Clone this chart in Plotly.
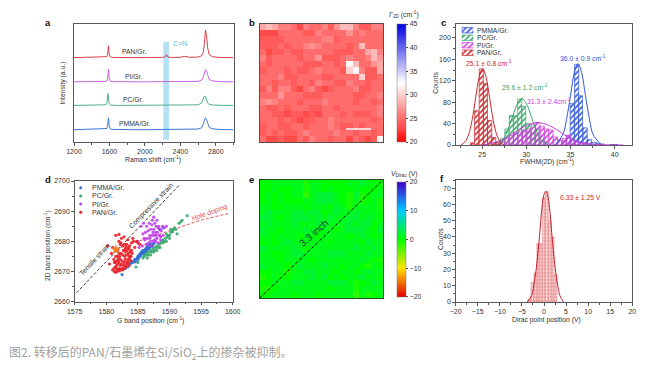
import plotly.graph_objects as go

W, H = 646, 368
FONT = "Liberation Sans"
TXT = "#333333"

# ---------- panel a ----------
raman_x = [1200,1300,1400,1450,1500,1550,1570,1578,1584,1588,1592,1596,1602,1610,1630,1700,1800,1900,2000,2100,2200,2230,2245,2260,2300,2400,2450,2500,2600,2640,2660,2672,2684,2696,2708,2725,2760,2850,3000]
raman_pan = [71.5,71.6,71.5,71.6,71.6,71.8,72.3,73.5,78,81.5,80,75,72.8,72.1,71.7,71.5,71.6,71.5,71.6,71.5,71.7,72.3,74,72,71.6,71.8,72.6,71.8,72,73,76,84,95,90,80,74,72.3,71.6,71.5]
raman_pi = [51,51.1,51,51.2,51,51.3,51.8,53,58,61.5,60,55,52.5,51.6,51.2,51,51.1,51,51,51.1,51,51.1,51,51.1,51,51.1,51.3,51.1,51.4,52.5,55,58.5,61.5,60,56,53,51.8,51.1,51]
raman_pc = [31,31.1,31,31.1,31.2,31.5,32.2,36,41,39,35,33,32,31.5,31.2,31,31.1,31,31,31.1,31,31,31.1,31,31,31.1,31.6,31.3,31.5,33,36,39,38.5,35,33,32,31.4,31.1,31]
raman_pmma = [10.4,10.6,10.9,11.1,10.7,10.9,11.4,13,18,20.5,19,14.5,12,11.1,10.7,10.5,10.6,10.4,10.4,10.5,10.4,10.5,10.4,10.5,10.5,10.6,11,10.7,11,12,15,18.5,20.5,19,15.5,12.5,11.2,10.6,10.4]

# ---------- panel b ----------
gamma_map = [
 [28,29,28,26,26,25,23,26,25,25,26,24,27,29,29,26,24,24,26,26],
 [23,23,23,25,25,25,25,24,24,26,25,25,25,25,27,25,26,25,25,25],
 [24,24,24,24,25,25,25,25,25,25,26,26,24,25,25,25,25,25,25,25],
 [24,24,24,25,24,25,25,26,27,26,25,25,25,25,24,25,29,25,25,25],
 [25,23,24,24,25,24,24,25,25,25,25,25,24,24,24,25,25,28,29,26],
 [26,24,25,25,25,25,24,25,25,27,24,24,24,25,26,25,25,26,29,27],
 [25,24,25,25,25,25,25,24,24,24,25,25,24,25,32,29,25,25,27,28],
 [24,25,25,25,24,25,24,24,25,26,25,25,25,24,30,33,26,24,24,28],
 [25,25,25,26,24,24,25,25,25,25,24,24,25,25,25,25,30,24,24,25],
 [25,25,24,25,25,24,25,25,24,26,25,25,24,24,26,25,25,24,25,25],
 [24,26,24,26,26,24,23,25,26,24,23,24,25,25,25,26,24,24,25,25],
 [25,25,25,27,25,25,25,24,24,24,25,25,25,25,25,24,24,25,25,26],
 [26,27,26,25,25,25,24,25,25,25,26,25,25,25,25,24,25,25,24,25],
 [25,24,24,25,24,25,25,25,24,24,25,25,24,25,25,25,25,25,25,26],
 [25,25,24,24,23,24,24,23,24,23,25,25,25,24,25,24,24,24,25,26],
 [25,25,25,24,25,24,23,24,24,25,25,26,25,25,25,25,25,25,24,25],
 [24,25,25,24,24,25,25,24,25,25,25,26,25,24,24,25,24,25,25,25],
 [24,25,24,25,24,24,25,26,25,25,25,25,26,25,25,24,25,25,24,25],
 [25,23,23,24,23,23,25,24,26,25,25,24,25,25,23,25,24,23,24,32],
]

# ---------- panel c ----------
pan_bin = [23.9,24.37,24.9,25.37,25.85,26.3,26.8]
pan_cnt = [4,64,142,115,46,14,5]
pc_bin = [26.8,27.3,27.8,28.3,28.8,29.25,29.7,30.2,30.7,31.2,31.7,32.2]
pc_cnt = [4,12,30,55,55,86,72,40,22,30,15,5]
pi_bin = [26.8,27.3,27.8,28.3,28.8,29.3,29.8,30.3,30.8,31.3,31.8,32.3,32.8,33.3,33.8,34.3,34.8,35.3,35.8,36.3,36.8]
pi_cnt = [2,5,12,18,22,24,28,30,38,42,35,30,28,15,10,12,18,8,5,3,2]
pmma_bin = [34.25,34.75,35.2,35.7,36.13,36.66,37.15,37.7,38.15,38.6,39.7,40.1]
pmma_cnt = [8,18,78,150,92,32,10,5,3,2,1,1]

pan_fit_x = [22.6,23.05,23.45,23.85,24.25,24.65,25.05,25.45,25.85,26.25,26.65,27.05,27.45]
pan_fit_y = [0,6,19,46,87,126,143,126,87,46,19,6,0]
pc_fit_x = [26.7,27.4,27.9,28.45,29.0,29.5,30.0,30.55,31.1,31.6,32.5]
pc_fit_y = [0,11,28,54,77,87,77,54,28,11,0]
pi_fit_x = [24.9,26.5,27.7,28.9,30.1,31.3,32.5,33.7,34.9,36.1,37.3,39,41]
pi_fit_y = [0,5,13,26,37,42,37,26,13,5,2,0.4,0]
pmma_fit_x = [33.3,34.15,34.55,35.0,35.45,35.85,36.25,36.7,37.15,37.55,38.5]
pmma_fit_y = [0,20,48,92,136,152,136,92,48,20,0]

# ---------- panel d ----------
pmma_g = [1582.5,1583,1583.4,1583.8,1584,1584.2,1584.4,1584.5,1584.7,1584.9,1585,1585.1,1585.2,1585.3,1585.4,1585.5,1585.6,1585.7,1585.8,1585.9,1586,1586.1,1586.2,1586.3,1586.4,1586.5,1586.6,1586.7,1586.8,1586.9,1587,1587.2,1587.4,1587.6,1584.6,1585,1585.5,1586,1586.4,1586.8,1587.3,1588.5,1589]
pmma_2d = [2669,2671,2671.5,2672.5,2673,2673,2673.5,2674,2674,2674.5,2675,2674.5,2675.5,2675,2676,2675.5,2676.5,2676,2677,2676.5,2677,2676.5,2677.5,2677,2678,2677.5,2678,2678.5,2678,2679,2678.5,2679,2679,2679.5,2673.2,2674,2676,2676,2676.8,2677.5,2678.2,2684,2684.5]
pc_g = [1584.7,1585,1585.8,1586,1586.2,1586.4,1586.6,1586.8,1587,1587.2,1587.4,1587.6,1587.8,1588,1588.2,1588.4,1588.6,1588.8,1589,1589.2,1589.4,1589.6,1589.8,1590,1590.2,1590.4,1590.6,1590.8,1591,1591.2,1591.5,1591.8,1592,1592.8,1586.5,1587,1587.5,1588,1588.5,1589,1589.5,1590,1590.5,1590.2,1589.5]
pc_2d = [2671.5,2673,2674.5,2675,2675.5,2676,2675.5,2676.5,2677,2676.5,2677.5,2677,2678,2678.5,2678,2679,2679.5,2680,2680.5,2680,2681,2681.5,2682,2682,2683,2683.5,2684,2684.5,2684,2682.5,2686,2686.5,2687,2688.5,2674.5,2675.5,2676.5,2677,2678,2679.5,2680,2681,2683.2,2684,2682.5]
pi_g = [1585.5,1585.8,1585.9,1586.1,1586.2,1586.3,1586.4,1586.5,1586.6,1586.7,1586.8,1586.9,1587,1587,1587.1,1587.2,1587.3,1587.3,1587.4,1587.5,1587.5,1587.6,1587.7,1587.8,1587.8,1587.9,1588,1588,1588.1,1588.2,1588.3,1588.4,1588.5,1588.6,1588.7,1588.9,1589,1589.2,1589.5,1585,1585.2,1585.7,1586,1586.4,1586.9,1587.4,1587.6,1587.9,1588.2,1588.6]
pi_2d = [2685,2682.5,2686,2680.5,2683,2679,2685,2681,2683.5,2679.5,2686,2682,2684,2680,2678.5,2685.5,2682,2687,2680,2688,2684,2682,2686,2680,2683,2685,2681,2687,2683,2679.5,2685,2682,2684,2680.5,2683.5,2685,2682,2684.5,2685,2680,2678,2678.5,2681,2679,2681,2683,2680.5,2682,2684.5,2681.5]
pan_g = [1580.2,1580.5,1580.8,1581,1581,1581.2,1581.2,1581.3,1581.4,1581.4,1581.5,1581.5,1581.6,1581.6,1581.7,1581.7,1581.8,1581.8,1581.9,1581.9,1582,1582,1582,1582.1,1582.1,1582.2,1582.2,1582.3,1582.3,1582.4,1582.4,1582.5,1582.5,1582.6,1582.6,1582.7,1582.7,1582.8,1582.8,1582.9,1582.9,1583,1583,1583,1583.1,1583.1,1583.2,1583.2,1583.3,1583.3,1583.4,1583.4,1583.5,1583.5,1583.6,1583.6,1583.7,1583.7,1583.8,1583.8,1583.9,1584,1584,1584.1,1584.3,1584.5,1584.8,1585,1585.3,1581.5,1582,1582.3,1582.8,1583.2,1583.5,1582.6,1583,1582,1581.8,1581.3,1582.2,1583.6,1583.9,1584.2]
pan_2d = [2678.5,2672.5,2676,2670.5,2678,2671,2674,2670,2673,2671.5,2669.8,2675,2671,2672,2673.5,2670,2672.5,2677,2670.5,2674,2671,2673,2680,2670.2,2675,2672,2674,2670.8,2676,2672.5,2681,2671,2673.5,2670.5,2675.5,2672,2677,2673,2671,2675,2679,2672,2674,2676.5,2671.5,2678,2673,2675.5,2672.5,2677,2674,2680.5,2673,2676,2675,2677.5,2674,2678.5,2675,2676.5,2673.5,2677,2679.5,2676,2680,2678,2680,2679.5,2679,2682,2682.3,2679.5,2681.5,2679,2678,2678.5,2677.5,2676,2675,2673,2679,2672,2675,2681]
star_g = [1581.5]
star_2d = [2677.3]
tensile_g = [1575.3, 1591.7]
tensile_2d = [2663, 2699]
doping_g = [1581.5, 1590, 1595, 1599.5]
doping_2d = [2677.5, 2683.5, 2687, 2689.3]

# ---------- panel e ----------
dirac_map = [
 [0,0,1,1,1,1,1,-1,1,1,0,0,0,0,1,1,2,1,0,0],
 [0,0,1,0,0,1,1,-1,1,1,0,1,0,0,0,1,0,0,0,1],
 [0,1,0,1,0,1,1,-2,1,2,2,2,1,0,-1,2,-1,0,1,1],
 [0,1,0,1,0,0,0,1,1,2,2,2,1,0,-1,1,-1,0,1,-1],
 [1,1,0,0,1,1,1,0,1,1,1,0,2,1,-1,1,1,1,1,-1],
 [1,2,1,1,1,2,2,1,2,2,0,1,2,1,1,2,1,1,1,0],
 [2,2,1,0,1,2,2,2,1,2,1,2,1,1,2,2,1,2,1,0],
 [1,2,1,1,1,2,1,1,1,2,2,1,1,1,2,1,2,2,0,1],
 [2,1,1,0,1,1,1,2,1,1,1,1,0,1,2,2,2,1,0,2],
 [1,1,0,1,1,1,0,1,1,0,1,1,1,1,0,1,2,1,0,1],
 [0,1,0,1,2,1,1,1,1,1,1,0,1,1,1,1,0,2,1,1],
 [2,1,1,1,1,2,1,0,1,1,1,1,1,1,1,2,1,1,2,1],
 [1,1,0,0,1,2,2,1,1,1,1,2,2,2,1,1,1,2,1,1],
 [1,1,1,0,1,1,1,1,0,1,1,1,1,1,1,1,2,1,0,-1],
 [2,1,1,1,0,1,2,1,1,1,2,1,1,0,1,1,0,-1,1,0],
 [0,0,1,1,-1,1,1,2,2,1,1,1,0,1,1,0,1,2,1,1],
 [-1,0,1,0,0,1,1,1,2,1,2,0,1,0,1,1,2,1,1,0],
 [0,0,1,1,1,2,2,1,1,1,1,2,2,2,1,-1,0,1,2,1],
 [-1,-1,0,1,1,1,1,1,1,1,1,0,1,1,1,-1,1,1,1,1],
 [0,0,1,1,1,0,1,1,1,0,1,1,1,1,1,-2,1,-1,0,1],
]

# ---------- panel f ----------
dirac_bin = [-3.25,-2.6,-1.95,-1.3,-0.65,0,0.65,1.3,1.95,2.6]
dirac_cnt = [2,12,18,36,36,64,68,50,40,17]
dirac_fit_x = [-3.8,-2.8,-2.2,-1.6,-1.0,-0.45,0.0,0.4,0.8,1.25,1.8,2.4,3.0,3.6,4.4]
dirac_fit_y = [0,4,12,24,41,58,66,68,66,58,41,24,12,4,0]

COL_PAN, COL_PC, COL_PI, COL_PMMA = "#c8282d", "#3aa66a", "#c840d8", "#2f55d4"
names = ["PMMA/Gr.", "PC/Gr.", "PI/Gr.", "PAN/Gr."]
cols4 = [COL_PMMA, COL_PC, COL_PI, COL_PAN]

def fx(px): return px / W
def fy(py): return 1 - py / H

annotations, shapes = [], []
def ann(text, px, py, size=6.8, color=TXT, angle=0, anchor="center", bold=False, family=FONT):
    annotations.append(dict(text=f"<b>{text}</b>" if bold else text, x=fx(px), y=fy(py), xref="paper", yref="paper",
        xanchor=anchor, yanchor="middle", showarrow=False, textangle=angle,
        font=dict(size=size, color=color, family=family)))

fig = go.Figure()
layout = {}
def axes(idx, x0, x1, y0, y1, xr, yr, xtick=None, ytick=None, xminor=None, yminor=None, linecol="#5a5a5a", show=True):
    def ax(dom, rng, dt, mn, anchor):
        d = dict(domain=dom, range=rng, anchor=anchor, automargin=False, showgrid=False, zeroline=False, showline=show,
                 mirror=show, linecolor=linecol, linewidth=1, tickfont=dict(size=7, color=TXT, family=FONT))
        if dt:
            d.update(dtick=dt, tick0=0 if dt in (5,10,40) else rng[0], ticks="outside", ticklen=2.5, tickwidth=0.7, tickcolor="#555")
            if mn:
                d["minor"] = dict(ticks="outside", ticklen=1.5, tickwidth=0.6, dtick=mn, tickcolor="#555")
        else:
            d.update(showticklabels=False, ticks="")
        return d
    sfx = "" if idx == 1 else str(idx)
    layout["xaxis" + sfx] = ax([fx(x0), fx(x1)], xr, xtick, xminor, "y" + sfx)
    layout["yaxis" + sfx] = ax([fy(y1), fy(y0)], yr, ytick, yminor, "x" + sfx)
    return dict(xaxis="x" + sfx, yaxis="y" + sfx)

# a
a = axes(1, 74, 233.5, 24, 142, [1200, 3000], [0, 100], xtick=400, xminor=200)
layout["xaxis"]["tick0"] = 1200
shapes.append(dict(type="rect", xref="x", yref="y", x0=2208, x1=2272, y0=2, y1=85, fillcolor="#b5e0f5", line_width=0, layer="below"))
for vals, col in [(raman_pan, "#d8404a"), (raman_pi, "#c860e0"), (raman_pc, "#50b088"), (raman_pmma, "#3878d8")]:
    fig.add_trace(go.Scatter(x=raman_x, y=vals, mode="lines", line=dict(color=col, width=1), showlegend=False, **a))
ann("PAN/Gr.", 134, 51.7); ann("PI/Gr.", 133.3, 76); ann("PC/Gr.", 133.7, 99.7); ann("PMMA/Gr.", 134.3, 124)
ann("C≡N", 180, 44, color="#5bbfe8", size=7)
ann("Raman shift (cm<sup>-1</sup>)", 153.3, 159)
ann("Intensity (a.u.)", 63.3, 83.3, angle=-90)

# b
b = axes(2, 259.5, 383, 24, 142, [-0.5, 19.5], [18.5, -0.5], linecol="#5a4a4a")
fig.add_trace(go.Heatmap(z=gamma_map, zmin=20, zmax=45,
    colorscale=[[0, "#ff0000"], [0.12, "#ff4a4a"], [0.2, "#ff6c6c"], [0.5, "#ffffff"], [1, "#0000e0"]], xgap=0, ygap=0,
    colorbar=dict(x=fx(397), xanchor="left", xpad=0, ypad=0, thickness=8.7, lenmode="fraction", len=118/H,
                  y=fy(83), yanchor="middle", tickvals=[20,25,30,35,40,45], ticks="outside", ticklen=2.5, tickwidth=0.7,
                  outlinewidth=0.5, outlinecolor="#777", tickfont=dict(size=7, color=TXT, family=FONT)), **b))
shapes.append(dict(type="line", xref="paper", yref="paper", x0=fx(346), x1=fx(371), y0=fy(129), y1=fy(129), line=dict(color="white", width=1.5)))
ann("<i>Γ</i><sub>2D</sub> (cm<sup>-1</sup>)", 404, 14, size=6.8)

# c
c = axes(3, 455.7, 632.3, 24, 145, [22, 42], [0, 226], xtick=5, ytick=40, xminor=2.5, yminor=20)
c_series = [(pmma_bin, pmma_cnt, COL_PMMA), (pc_bin, pc_cnt, COL_PC), (pi_bin, pi_cnt, COL_PI), (pan_bin, pan_cnt, COL_PAN)]
def hatch(col):
    return dict(color="rgba(0,0,0,0)", line=dict(color=col, width=0.7),
                pattern=dict(shape="/", fgcolor=col, bgcolor="rgba(255,255,255,0.15)", size=4, solidity=0.4))
for bx, by, col in c_series:
    fig.add_trace(go.Bar(x=bx, y=by, width=0.47, marker=hatch(col), showlegend=False, **c))
for fxs, fys, col in [(pmma_fit_x, pmma_fit_y, COL_PMMA), (pc_fit_x, pc_fit_y, COL_PC), (pi_fit_x, pi_fit_y, COL_PI), (pan_fit_x, pan_fit_y, COL_PAN)]:
    fig.add_trace(go.Scatter(x=fxs, y=fys, mode="lines", line=dict(color=col, width=1, shape="spline", smoothing=1), showlegend=False, **c))
layout["barmode"] = "overlay"
ann("25.1 ± 0.8 cm<sup>-1</sup>", 489, 63.3, color=COL_PAN)
ann("29.6 ± 1.2 cm<sup>-1</sup>", 525.3, 87.3, color=COL_PC)
ann("31.3 ± 2.4cm<sup>-1</sup>", 549, 100.7, color=COL_PI)
ann("36.0 ± 0.9 cm<sup>-1</sup>", 582.7, 58.3, color=COL_PMMA)
ann("Counts", 436, 82.7, angle=-90)
ann("FWHM(2D) (cm<sup>-1</sup>)", 546.7, 161)
# c legend keys: a tiny invisible-axis bar plot
k = axes(7, 461.7, 473.3, 26.5, 56.5, [0, 1], [3.5, -0.5], show=False)
for i, (nm, col) in enumerate(zip(names, cols4)):
    fig.add_trace(go.Bar(x=[1], y=[i], width=0.72, orientation="h", marker=hatch(col), showlegend=False, **k))
    ann(nm, 475, 30.2 + i * 7.55, anchor="left")

# d
d = axes(4, 74.7, 232.7, 181, 301.7, [1575, 1600], [2660, 2700], xtick=5, ytick=10, xminor=2.5, yminor=5)
layout["xaxis4"]["tick0"] = 1575
layout["yaxis4"]["tick0"] = 2660
fig.add_trace(go.Scatter(x=tensile_g, y=tensile_2d, mode="lines", line=dict(color="#222", width=0.9, dash="3px,2px"), showlegend=False, **d))
fig.add_trace(go.Scatter(x=doping_g, y=doping_2d, mode="lines", line=dict(color="#e85050", width=1, dash="3px,2px", shape="spline"), showlegend=False, **d))
pts = [(pmma_g, pmma_2d, "#2f6fd0"), (pc_g, pc_2d, "#3aa870"), (pi_g, pi_2d, "#c040e8"), (pan_g, pan_2d, "#e82028")]
for gx, dy, col in pts:
    fig.add_trace(go.Scatter(x=gx, y=dy, mode="markers", marker=dict(color=col, size=3.2, opacity=0.9, line_width=0), showlegend=False, **d))
fig.add_trace(go.Scatter(x=star_g, y=star_2d, mode="markers", marker=dict(color="#f08020", size=8, symbol="star", line_width=0), showlegend=False, **d))
for i, (nm, (_, _, col)) in enumerate(zip(names, pts)):
    cy = 187.7 + i * 8.2
    shapes.append(dict(type="circle", xref="paper", yref="paper", x0=fx(79.2), x1=fx(82.2), y0=fy(cy + 1.5), y1=fy(cy - 1.5), fillcolor=col, line_width=0))
    ann(nm, 90.3, cy, anchor="left", size=7)
ann("Tensile strain", 94.3, 259.3, angle=-47, size=7)
ann("Compressive strain", 151, 205.7, angle=-46, size=7)
ann("Hole doping", 209, 213.3, angle=-20, size=7, color="#e85050")
ann("G band position (cm<sup>-1</sup>)", 150.7, 320)
ann("2D band position (cm<sup>-1</sup>)", 47, 245, angle=-90)

# e
e = axes(5, 259.5, 383, 180, 298.3, [-0.5, 19.5], [19.5, -0.5], linecol="#1c4a1c")
jet = [[0, "#e00000"], [0.25, "#ffe000"], [0.5, "#00ff00"], [0.75, "#00c8ff"], [1, "#4400c8"]]
fig.add_trace(go.Heatmap(z=dirac_map, zmin=-20, zmax=20, colorscale=jet,
    colorbar=dict(x=fx(397), xanchor="left", xpad=0, ypad=0, thickness=8.7, lenmode="fraction", len=115.3/H,
                  y=fy(239.3), yanchor="middle", tickvals=[-20,-10,0,10,20], ticks="outside", ticklen=2.5, tickwidth=0.7,
                  outlinewidth=0.5, outlinecolor="#777", tickfont=dict(size=7, color=TXT, family=FONT)), **e))
shapes.append(dict(type="line", xref="x5", yref="y5", x0=-0.5, x1=19.5, y0=19.5, y1=-0.5, line=dict(color="#111", width=1, dash="4px,1.5px")))
ann("3.3 inch", 313, 233, size=10, angle=-42, color="#1c3c2c")
ann("<i>V</i><sub>Dirac</sub> (V)", 404, 174, size=6.8)

# f
f = axes(6, 455.7, 632.3, 180, 302, [-20, 20], [0, 75], xtick=5, ytick=10, xminor=2.5, yminor=5)
fig.add_trace(go.Bar(x=dirac_bin, y=dirac_cnt, width=0.65,
    marker=dict(color="rgba(0,0,0,0)", line=dict(color="#e88a8a", width=0.6),
                pattern=dict(shape="+", fgcolor="#eb8f8f", bgcolor="#fbe4e4", size=3.5, solidity=0.45)), showlegend=False, **f))
fig.add_trace(go.Scatter(x=dirac_fit_x, y=dirac_fit_y, mode="lines", line=dict(color="#c02030", width=1, shape="spline"), showlegend=False, **f))
ann("0.33 ± 1.25 V", 580, 197.3, color=COL_PAN)
ann("Counts", 440, 239, angle=-90)
ann("Dirac point position (V)", 546, 320.3)

# panel letters
for letter, px, py in [("a", 48, 22.7), ("b", 251.7, 22.3), ("c", 443, 22.7), ("d", 48, 179), ("e", 251, 179), ("f", 442, 178)]:
    ann(letter, px, py, size=9.5, color="#111", bold=True)

# caption
ann("图2. 转移后的PAN/石墨烯在Si/SiO<sub>2</sub>上的掺杂被抑制。", 7, 352, size=12, color="#a0a0a0", anchor="left", family="Noto Sans CJK SC")

fig.update_layout(template="none", width=W, height=H, autosize=False, margin=dict(l=0, r=0, t=0, b=0, autoexpand=False), paper_bgcolor="white", plot_bgcolor="white",
                  showlegend=False, annotations=annotations, shapes=shapes, font=dict(family=FONT), **layout)
fig.write_html("out.html", config={"displayModeBar": False},
               post_script="document.body.style.margin='0';document.body.style.overflow='hidden';")
